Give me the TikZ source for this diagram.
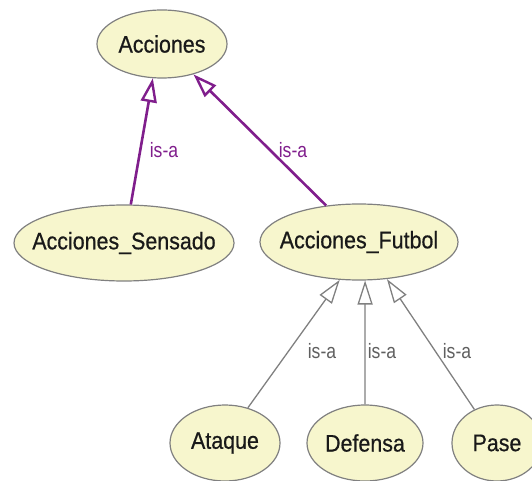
\documentclass[tikz,border=0pt]{standalone}
\usepackage{fontspec}
\setmainfont{Liberation Sans}
\newfontfamily\nodefont[FakeBold=0.6]{Liberation Sans}
\usetikzlibrary{shapes.geometric,arrows.meta}
\definecolor{nodefill}{RGB}{247,246,205}
\definecolor{nodeline}{RGB}{128,128,128}
\definecolor{isapurple}{RGB}{128,30,140}
\definecolor{isagray}{RGB}{128,128,128}
\definecolor{labgray}{RGB}{95,95,95}
\newcommand{\zw}[1]{\makebox[0pt]{\scalebox{1.02}[1.14]{#1}}}
\newcommand{\lb}[1]{\scalebox{1.1}[1.3]{#1}}
\tikzset{
  cls/.style={ellipse, draw=nodeline, line width=1.2pt, fill=nodefill, inner sep=0pt,
    font=\nodefont\fontsize{21}{24}\selectfont, text=black!90},
  isastrong/.style={draw=isapurple, line width=2.6pt,
    -{Triangle[open, length=24pt, width=16pt, line width=2.4pt]}},
  isaweak/.style={draw=isagray, line width=1.3pt,
    -{Triangle[open, length=24pt, width=15pt, fill=white]}},
  lblp/.style={font=\fontsize{16}{18}\selectfont, text=isapurple, inner sep=0pt},
  lblg/.style={font=\fontsize{16}{18}\selectfont, text=labgray, inner sep=0pt},
}
\begin{document}
\begin{tikzpicture}[x=1pt,y=-1pt]
\useasboundingbox (0,0) rectangle (532,481);
\node[cls, minimum width=130pt, minimum height=68pt] (acc) at (162,44) {\zw{Acciones}};
\node[cls, minimum width=220pt, minimum height=76pt] (sen) at (124,243) {\zw{Acciones\_Sensado}};
\node[cls, minimum width=198pt, minimum height=76pt] (fut) at (359,242) {\zw{Acciones\_Futbol}};
\node[cls, minimum width=110pt, minimum height=76pt] (ata) at (225,443) {\zw{Ataque}};
\node[cls, minimum width=116pt, minimum height=76pt] (def) at (365,443) {\zw{Defensa}};
\node[cls, minimum width=90pt, minimum height=76pt] (pas) at (497,443) {\zw{Pase}};

\draw[isastrong] (sen.80) -- (acc.255);
\draw[isastrong] (fut.132) -- (acc.316);
\draw[isaweak] (ata.57) -- (fut.243);
\draw[isaweak] (def.90) -- (fut.279);
\draw[isaweak] (pas.124) -- (fut.307);

\node[lblp] (l1) at (164,150) {\lb{is-a}};
\node[lblp] (l2) at (293,150) {\lb{is-a}};
\node[lblg] (l3) at (322,351) {\lb{is-a}};
\node[lblg] (l4) at (382,351) {\lb{is-a}};
\node[lblg] (l5) at (457,351) {\lb{is-a}};
\end{tikzpicture}
\end{document}
